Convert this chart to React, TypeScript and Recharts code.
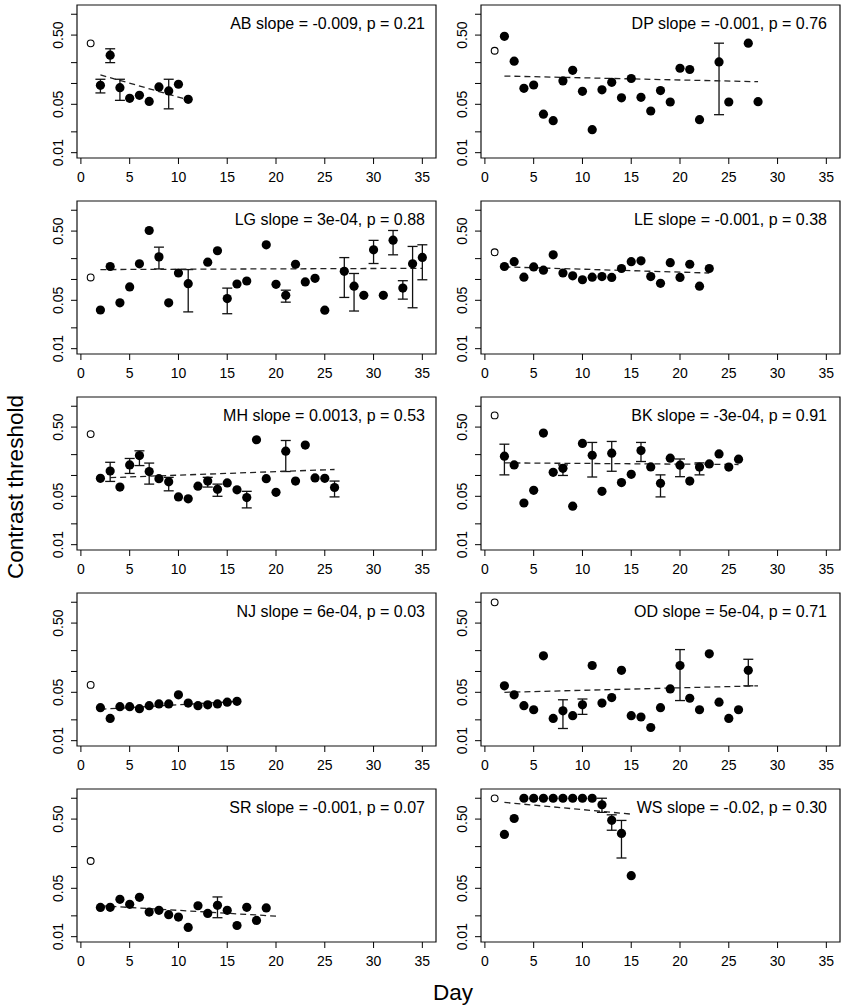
import { ScatterChart, Scatter, XAxis, YAxis, ErrorBar, ReferenceArea } from 'recharts';

const dayTicks = [0, 5, 10, 15, 20, 25, 30, 35];
const thrTicks = [0.01, 0.02, 0.05, 0.1, 0.2, 0.5, 1];
const thrTickLabels = ['0.01', '', '0.05', '', '', '0.50', ''];
const dayDomain = [-0.4, 36.4];
const thrDomain = [0.00838, 1.36];

// contrast threshold per day, index 0 = day 1 (baseline, open circle), null = no session
// errors: [day, low, high]; fit: [day, threshold] at the ends of the dashed regression line
const abThr = [0.38, 0.094, 0.256, 0.087, 0.061, 0.0675, 0.055, 0.089, 0.078, 0.0975, 0.059];
const abErr = [[2, 0.073, 0.115], [3, 0.2, 0.317], [4, 0.057, 0.115], [9, 0.043, 0.115]];
const abFit = [[2, 0.133], [11, 0.058]];

const dpThr = [0.297, 0.48, 0.21, 0.085, 0.095, 0.036, 0.029, 0.109, 0.155, 0.077, 0.0215, 0.081, 0.104, 0.062,
  0.118, 0.063, 0.04, 0.079, 0.054, 0.166, 0.159, 0.03, null, 0.205, 0.054, null, 0.382, 0.0545];
const dpErr = [[24, 0.0354, 0.382]];
const dpFit = [[2, 0.128], [28, 0.106]];

const lgThr = [0.107, 0.0362, 0.154, 0.046, 0.078, 0.168, 0.51, 0.212, 0.046, 0.124, 0.087, null, 0.178, 0.26,
  0.053, 0.086, 0.095, null, 0.317, 0.085, 0.059, 0.166, 0.092, 0.104, 0.036, null, 0.131, 0.08, 0.059, 0.268,
  0.059, 0.37, 0.075, 0.168, 0.208];
const lgErr = [[8, 0.142, 0.293], [11, 0.034, 0.139], [15, 0.032, 0.075], [21, 0.047, 0.07], [27, 0.055, 0.207],
  [28, 0.035, 0.122], [30, 0.17, 0.367], [32, 0.227, 0.51], [33, 0.052, 0.096], [34, 0.039, 0.3], [35, 0.099, 0.317]];
const lgFit = [[2, 0.139], [35, 0.145]];

const leThr = [0.247, 0.154, 0.181, 0.108, 0.152, 0.136, 0.227, 0.124, 0.113, 0.099, 0.108, 0.11, 0.107, 0.144,
  0.181, 0.186, 0.11, 0.088, 0.175, 0.107, 0.166, 0.08, 0.144];
const leErr = [];
const leFit = [[2, 0.152], [23, 0.124]];

const mhThr = [0.396, 0.091, 0.116, 0.068, 0.142, 0.194, 0.114, 0.09, 0.081, 0.049, 0.046, 0.07, 0.083, 0.063,
  0.078, 0.062, 0.048, 0.328, 0.09, 0.057, 0.224, 0.083, 0.275, 0.092, 0.091, 0.067];
const mhErr = [[3, 0.082, 0.155], [5, 0.107, 0.176], [6, 0.139, 0.227], [7, 0.075, 0.151], [9, 0.06, 0.094],
  [13, 0.068, 0.094], [14, 0.05, 0.075], [17, 0.034, 0.059], [21, 0.114, 0.32], [26, 0.049, 0.083]];
const mhFit = [[3, 0.093], [26, 0.122]];

const bkThr = [0.738, 0.19, 0.142, 0.04, 0.061, 0.41, 0.111, 0.127, 0.036, 0.29, 0.196, 0.059, 0.21, 0.079,
  0.104, 0.229, 0.133, 0.077, 0.178, 0.141, 0.083, 0.132, 0.147, 0.205, 0.132, 0.172];
const bkErr = [[2, 0.102, 0.283], [8, 0.1, 0.142], [11, 0.095, 0.3], [13, 0.115, 0.31], [16, 0.159, 0.3],
  [18, 0.049, 0.102], [20, 0.096, 0.173], [22, 0.102, 0.152]];
const bkFit = [[2, 0.152], [26, 0.144]];

const njThr = [0.064, 0.03, 0.021, 0.031, 0.031, 0.029, 0.032, 0.034, 0.034, 0.046, 0.035, 0.032, 0.033, 0.034,
  0.036, 0.037];
const njErr = [];
const njFit = [[2, 0.0284], [16, 0.037]];

const odThr = [0.997, 0.062, 0.046, 0.032, 0.028, 0.168, 0.021, 0.027, 0.023, 0.033, 0.122, 0.035, 0.042, 0.104,
  0.023, 0.022, 0.0155, 0.03, 0.056, 0.122, 0.041, 0.028, 0.18, 0.036, 0.021, 0.028, 0.104];
const odErr = [[8, 0.015, 0.039], [10, 0.024, 0.04], [20, 0.038, 0.207], [27, 0.062, 0.15]];
const odFit = [[2, 0.05], [28, 0.062]];

const srThr = [0.124, 0.0265, 0.0266, 0.0346, 0.0293, 0.037, 0.0227, 0.024, 0.0208, 0.0192, 0.0136, 0.028,
  0.0217, 0.0284, 0.024, 0.0145, 0.0266, 0.0172, 0.026];
const srErr = [[14, 0.0188, 0.0375]];
const srFit = [[2, 0.028], [20, 0.0198]];

const wsThr = [0.997, 0.3, 0.51, 1.0, 1.0, 1.0, 1.0, 1.0, 1.0, 1.0, 1.0, 0.806, 0.48, 0.31, 0.076];
const wsErr = [[12, 0.625, 1.0], [13, 0.345, 0.576], [14, 0.137, 0.478]];
const wsFit = [[2, 0.87], [15, 0.59]];

const subjects = ['AB', 'DP', 'LG', 'LE', 'MH', 'BK', 'NJ', 'OD', 'SR', 'WS'];
const slopes = ['-0.009', '-0.001', '3e-04', '-0.001', '0.0013', '-3e-04', '6e-04', '5e-04', '-0.001', '-0.02'];
const pValues = ['0.21', '0.76', '0.88', '0.38', '0.53', '0.91', '0.03', '0.71', '0.07', '0.30'];
const thresholds = [abThr, dpThr, lgThr, leThr, mhThr, bkThr, njThr, odThr, srThr, wsThr];
const errors = [abErr, dpErr, lgErr, leErr, mhErr, bkErr, njErr, odErr, srErr, wsErr];
const fits = [abFit, dpFit, lgFit, leFit, mhFit, bkFit, njFit, odFit, srFit, wsFit];

// layout (page px)
const COL_X = [77, 481];
const BOX_W = 359;
const BOX_H = 153;
const ROW_TOP = 5;
const ROW_STEP = 196;
const Y_AXIS_W = 75;
const CHART_W = Y_AXIS_W + BOX_W + 6;
const CHART_H = 5 + BOX_H + 30;
const FONT = '"Liberation Sans", Arial, Helvetica, sans-serif';

const Dot = (props: any) => <circle cx={props.cx} cy={props.cy} r={4.6} fill="#000" />;
const Ring = (props: any) => <circle cx={props.cx} cy={props.cy} r={3.4} fill="#fff" stroke="#000" strokeWidth={1.1} />;
const Nothing = () => <g />;

const renderYTick = (props: any) => {
  const { x, y, payload } = props;
  const label = thrTickLabels[thrTicks.indexOf(payload.value)];
  if (!label) return <g />;
  return (
    <text transform={`translate(${x - 6},${y}) rotate(-90)`} textAnchor="middle" fontSize={14} fill="#000">
      {label}
    </text>
  );
};

function Panel({ index }: { index: number }) {
  const thr = thresholds[index];
  const err = errors[index];
  const plain: any[] = [];
  const withErr: any[] = [];
  thr.forEach((v, i) => {
    if (i === 0 || v == null) return;
    const day = i + 1;
    const e = err.find((r) => r[0] === day);
    if (e) withErr.push({ day, thr: v, err: [v - e[1], e[2] - v] });
    else plain.push({ day, thr: v });
  });
  const base = [{ day: 1, thr: thr[0] }];
  const fit = fits[index].map(([day, t]) => ({ day, thr: t }));
  const col = index % 2;
  const row = Math.floor(index / 2);

  return (
    <div style={{ position: 'absolute', left: COL_X[col] - Y_AXIS_W, top: ROW_TOP + row * ROW_STEP - 5 }}>
      <ScatterChart width={CHART_W} height={CHART_H} margin={{ top: 5, right: 6, bottom: 0, left: 0 }}>
        <XAxis
          type="number"
          dataKey="day"
          domain={dayDomain}
          ticks={dayTicks}
          interval={0}
          allowDataOverflow
          axisLine={false}
          tickLine={{ stroke: '#000', strokeWidth: 1 }}
          tickSize={6}
          tickMargin={8}
          height={30}
          tick={{ fontSize: 14, fill: '#000' }}
        />
        <YAxis
          type="number"
          dataKey="thr"
          scale="log"
          domain={thrDomain}
          ticks={thrTicks}
          interval={0}
          allowDataOverflow
          axisLine={false}
          tickLine={{ stroke: '#000', strokeWidth: 1 }}
          tickSize={6}
          width={Y_AXIS_W}
          tick={renderYTick}
        />
        <ReferenceArea
          x1={dayDomain[0]}
          x2={dayDomain[1]}
          y1={thrDomain[0]}
          y2={thrDomain[1]}
          fill="none"
          fillOpacity={0}
          stroke="#111"
          strokeWidth={1.2}
          ifOverflow="visible"
        />
        <Scatter
          data={fit}
          shape={Nothing}
          line={{ stroke: '#222', strokeWidth: 1.3, strokeDasharray: '6 4' }}
          isAnimationActive={false}
        />
        <Scatter data={plain} shape={Dot} isAnimationActive={false} />
        <Scatter data={withErr} shape={Dot} isAnimationActive={false}>
          <ErrorBar dataKey="err" direction="y" width={5} stroke="#111" strokeWidth={1.3} />
        </Scatter>
        <Scatter data={base} shape={Ring} isAnimationActive={false} />
      </ScatterChart>
    </div>
  );
}

export default function App() {
  return (
    <div style={{ position: 'absolute', left: 0, top: 0, width: 846, height: 1008, fontFamily: FONT, background: '#fff' }}>
      {subjects.map((s, i) => (
        <Panel key={s} index={i} />
      ))}
      <svg
        width={846}
        height={1008}
        style={{ position: 'absolute', left: 0, top: 0, pointerEvents: 'none', fontFamily: FONT }}
      >
        {subjects.map((s, i) => {
          const col = i % 2;
          const row = Math.floor(i / 2);
          const right = COL_X[col] + BOX_W - (col === 0 ? 11 : 13);
          return (
            <text key={s} x={right} y={ROW_TOP + row * ROW_STEP + 24} textAnchor="end" fontSize={16} fill="#000">
              {`${s} slope = ${slopes[i]}, p = ${pValues[i]}`}
            </text>
          );
        })}
        <text transform="translate(23,487) rotate(-90)" textAnchor="middle" fontSize={22.5} fill="#000">
          Contrast threshold
        </text>
        <text x={453} y={1000} textAnchor="middle" fontSize={22.5} fill="#000">
          Day
        </text>
      </svg>
    </div>
  );
}
